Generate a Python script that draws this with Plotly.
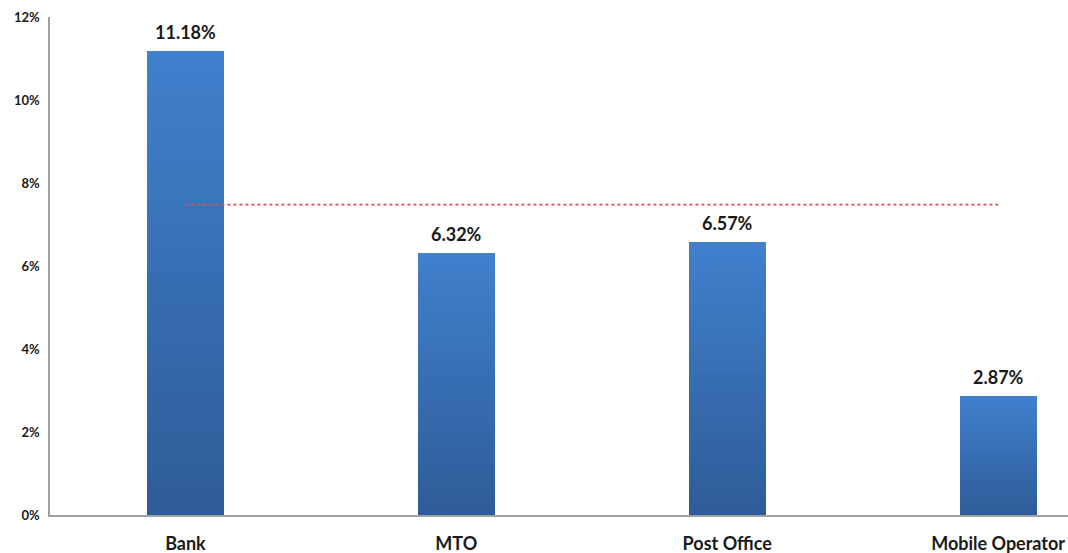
import plotly.graph_objects as go

categories = ["Bank", "MTO", "Post Office", "Mobile Operator"]
values = [11.18, 6.32, 6.57, 2.87]
value_labels = ["11.18%", "6.32%", "6.57%", "2.87%"]
reference_value = 7.48
y_ticks = [0, 2, 4, 6, 8, 10, 12]
y_tick_labels = ["0%", "2%", "4%", "6%", "8%", "10%", "12%"]

top_rgb = (64, 128, 205)
bottom_rgb = (46, 92, 152)
N = 40

fig = go.Figure()
for i in range(N):
    t = i / (N - 1)  # 0 bottom, 1 top
    c = tuple(round(b + (tp - b) * t) for b, tp in zip(bottom_rgb, top_rgb))
    fig.add_trace(go.Bar(
        x=categories, y=[v / N for v in values], width=0.285,
        marker=dict(color="rgb(%d,%d,%d)" % c, line=dict(width=0)),
        hoverinfo="skip", showlegend=False,
    ))

for cat, v, lab in zip(categories, values, value_labels):
    fig.add_annotation(
        x=cat, y=v, text=lab, showarrow=False, yanchor="bottom", yshift=6,
        font=dict(family="Lato", size=18, color="#1a1a1a", weight="bold"),
    )

fig.add_trace(go.Scatter(
    x=[categories[0], categories[-1]], y=[reference_value, reference_value],
    mode="lines", line=dict(color="#e0504a", width=1.6, dash="dot"),
    showlegend=False, hoverinfo="skip",
))

fig.update_layout(
    width=1068, height=553,
    margin=dict(l=50, r=0, t=17, b=38),
    paper_bgcolor="white", plot_bgcolor="white",
    barmode="stack", bargap=0,
    font=dict(family="Lato", color="#1a1a1a"),
)
fig.update_xaxes(
    type="category", range=[-0.5, 3.258],
    showline=True, linecolor="#a0a0a0", linewidth=1.5,
    showgrid=False, ticks="", ticklabelstandoff=12,
    tickfont=dict(family="Lato", size=18, color="#1a1a1a", weight="bold"),
)
fig.update_yaxes(
    range=[0, 12], tickmode="array", tickvals=y_ticks, ticktext=y_tick_labels,
    showline=True, linecolor="#a0a0a0", linewidth=1.5,
    showgrid=False, zeroline=False, ticks="", ticklabelstandoff=6,
    tickfont=dict(family="Lato", size=13, color="#1a1a1a", weight="bold"),
)

fig.write_html("out.html", config={"displayModeBar": False},
               post_script="document.body.style.margin='0';")
